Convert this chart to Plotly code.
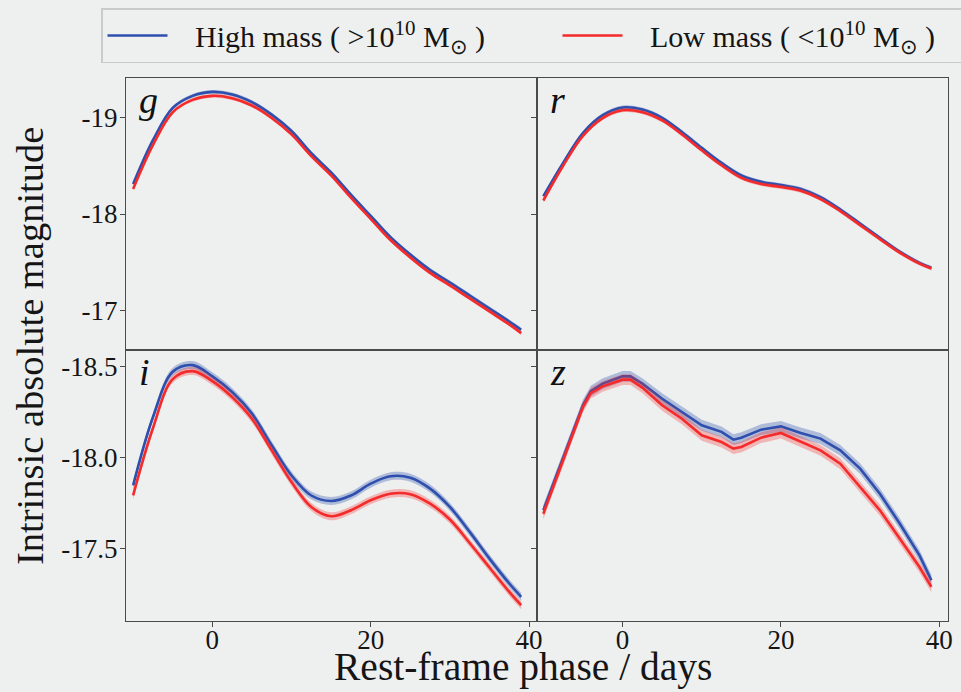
import plotly.graph_objects as go

# ---------------- data ----------------
days = [-10, -7.5, -5, -2.5, 0, 2.5, 5, 7.5, 10, 12.5, 15, 17.5, 20,
        22.5, 25, 27.5, 30, 32.5, 35, 37.5, 39]

g_high = [-18.31, -18.765, -19.10, -19.225, -19.266, -19.24, -19.16, -19.03,
          -18.86, -18.63, -18.43, -18.20, -17.98, -17.76, -17.58, -17.42,
          -17.29, -17.155, -17.02, -16.885, -16.80]
g_low = [-18.26, -18.715, -19.055, -19.183, -19.225, -19.20, -19.125, -18.995,
         -18.825, -18.60, -18.40, -18.17, -17.95, -17.73, -17.55, -17.39,
         -17.26, -17.125, -16.99, -16.855, -16.765]

r_high = [-18.185, -18.53, -18.84, -19.024, -19.104, -19.083, -18.997, -18.85,
          -18.686, -18.53, -18.40, -18.333, -18.30, -18.26, -18.175, -18.047,
          -17.90, -17.753, -17.61, -17.494, -17.442]
r_low = [-18.14, -18.50, -18.81, -18.995, -19.075, -19.055, -18.97, -18.825,
         -18.66, -18.505, -18.375, -18.31, -18.28, -18.24, -18.155, -18.03,
         -17.885, -17.74, -17.60, -17.485, -17.435]

i_high = [-17.846, -18.22, -18.47, -18.507, -18.445, -18.359, -18.24, -18.066,
          -17.90, -17.79, -17.76, -17.79, -17.855, -17.896, -17.888, -17.828,
          -17.727, -17.59, -17.443, -17.306, -17.233]
i_low = [-17.791, -18.16, -18.43, -18.474, -18.419, -18.331, -18.212, -18.038,
         -17.864, -17.727, -17.676, -17.709, -17.764, -17.80, -17.797, -17.745,
         -17.658, -17.529, -17.394, -17.26, -17.187]

z_days = [-10, -7.5, -5, -4, -2.5, 0, 1, 2.5, 5, 7.5, 10, 12.5, 14, 15,
          17.5, 20, 22.5, 25, 27.5, 30, 32.5, 35, 37.5, 39]
z_high = [-17.709, -17.993, -18.286, -18.364, -18.405, -18.445, -18.445, -18.405,
          -18.322, -18.249, -18.176, -18.14, -18.097, -18.108, -18.152, -18.17,
          -18.134, -18.103, -18.038, -17.938, -17.80, -17.636, -17.461, -17.324]
z_low = [-17.690, -17.980, -18.277, -18.353, -18.390, -18.427, -18.427, -18.383,
         -18.286, -18.212, -18.121, -18.084, -18.048, -18.057, -18.108, -18.134,
         -18.084, -18.038, -17.965, -17.837, -17.709, -17.553, -17.397, -17.288]

# half-widths of the shaded uncertainty bands (mag)
band_g = 0.02
band_r = 0.02
band_i = 0.022
band_z = 0.03

bands = ["g", "r", "i", "z"]
x_ticks = [0, 20, 40]
x_ticktext = ["0", "20", "40"]
y_top_ticks = [-19, -18, -17]
y_top_ticktext = ["-19", "-18", "-17"]
y_bot_ticks = [-18.5, -18.0, -17.5]
y_bot_ticktext = ["-18.5", "-18.0", "-17.5"]

series_names = ["\u00a0\u00a0\u00a0High mass ( &gt;10<sup>10</sup> M<sub>⊙</sub> )",
                "\u00a0\u00a0\u00a0Low mass ( &lt;10<sup>10</sup> M<sub>⊙</sub> )"]

# ---------------- styling ----------------
W, H = 961, 692
BG = "#eef0ef"
BLUE = "#2f4fae"
RED = "#f52a2a"
BLUE_FILL = "rgba(47,79,174,0.33)"
RED_FILL = "rgba(245,50,50,0.30)"
AX = "#4a4a4a"
FONT = "Liberation Serif"

panels = [
    ("g", days, g_high, g_low, band_g, "x", "y", "spline"),
    ("r", days, r_high, r_low, band_r, "x2", "y2", "spline"),
    ("i", days, i_high, i_low, band_i, "x3", "y3", "spline"),
    ("z", z_days, z_high, z_low, band_z, "x4", "y4", "linear"),
]

fig = go.Figure()
for k, (name, xs, hi, lo, bw, xa, ya, shape) in enumerate(panels):
    for j, (vals, col, fillc) in enumerate([(hi, BLUE, BLUE_FILL), (lo, RED, RED_FILL)]):
        upper = [v - bw for v in vals]
        lower = [v + bw for v in vals]
        fig.add_trace(go.Scatter(x=xs, y=upper, xaxis=xa, yaxis=ya, mode="lines",
                                 line=dict(width=0, shape=shape), showlegend=False,
                                 hoverinfo="skip"))
        fig.add_trace(go.Scatter(x=xs, y=lower, xaxis=xa, yaxis=ya, mode="lines",
                                 line=dict(width=0, shape=shape), fill="tonexty",
                                 fillcolor=fillc, showlegend=False, hoverinfo="skip"))
        fig.add_trace(go.Scatter(x=xs, y=vals, xaxis=xa, yaxis=ya, mode="lines",
                                 line=dict(color=col, width=2.6, shape=shape),
                                 name=series_names[j], legendgroup=str(j),
                                 showlegend=(k == 0)))

# geometry (pixel based, margins 0 so paper == pixels)
xL = [126 / W, 537 / W]
xR = [537 / W, 948 / W]
yT = [1 - 350 / H, 1 - 78 / H]
yB = [1 - 621 / H, 1 - 350 / H]

common = dict(showline=True, mirror=True, linecolor=AX, linewidth=1.4,
              showgrid=False, zeroline=False, ticklen=5, tickwidth=1.2,
              tickcolor=AX, tickfont=dict(family=FONT, size=27, color="#151515"))

xr_left = [-10.9, 41.0]
xr_right = [-10.8, 41.1]
yr_top = [-16.59, -19.41]
yr_bot = [-17.10, -18.59]

layout_axes = dict(
    xaxis=dict(domain=xL, anchor="y", range=xr_left, showticklabels=False, ticks="", **common),
    xaxis2=dict(domain=xR, anchor="y2", range=xr_right, showticklabels=False, ticks="", **common),
    xaxis3=dict(domain=xL, anchor="y3", range=xr_left, ticks="outside", ticklabelstandoff=-11,
                tickvals=x_ticks, ticktext=x_ticktext, **common),
    xaxis4=dict(domain=xR, anchor="y4", range=xr_right, ticks="outside", ticklabelstandoff=-11,
                tickvals=x_ticks, ticktext=x_ticktext, **common),
    yaxis=dict(domain=yT, anchor="x", range=yr_top, ticks="outside", ticklabelstandoff=-3,
               tickvals=y_top_ticks, ticktext=y_top_ticktext, **common),
    yaxis2=dict(domain=yT, anchor="x2", range=yr_top, ticks="outside",
                tickvals=y_top_ticks, showticklabels=False, **common),
    yaxis3=dict(domain=yB, anchor="x3", range=yr_bot, ticks="outside", ticklabelstandoff=-3,
                tickvals=y_bot_ticks, ticktext=y_bot_ticktext, **common),
    yaxis4=dict(domain=yB, anchor="x4", range=yr_bot, ticks="outside",
                tickvals=y_bot_ticks, showticklabels=False, **common),
)

annotations = []
for (name, *_), xa, ya in zip(panels, ["x", "x2", "x3", "x4"], ["y", "y2", "y3", "y4"]):
    annotations.append(dict(text="<i>%s</i>" % name, xref=xa + " domain", yref=ya + " domain",
                            x=0.026, y=0.92, xanchor="left", yanchor="middle",
                            showarrow=False, font=dict(family=FONT, size=38, color="#111")))

annotations.append(dict(text="Intrinsic absolute magnitude", xref="paper", yref="paper",
                        x=30 / W, y=1 - 346 / H, textangle=-90, showarrow=False,
                        xanchor="center", yanchor="middle",
                        font=dict(family=FONT, size=38.5, color="#151515")))
annotations.append(dict(text="Rest-frame phase / days", xref="paper", yref="paper",
                        x=523 / W, y=1 - 667 / H, showarrow=False,
                        xanchor="center", yanchor="middle",
                        font=dict(family=FONT, size=39.5, color="#151515")))

fig.update_layout(
    width=W, height=H,
    margin=dict(l=0, r=0, t=0, b=0, pad=0, autoexpand=False),
    paper_bgcolor=BG, plot_bgcolor=BG,
    annotations=annotations,
    legend=dict(orientation="h", x=101 / W, y=1 - 8 / H, xanchor="left", yanchor="top",
                bgcolor=BG, bordercolor="#c9cbca", borderwidth=1.5,
                font=dict(family=FONT, size=30, color="#151515"),
                itemwidth=60, entrywidth=380, entrywidthmode="pixels",
                traceorder="normal"),
    showlegend=True,
    **layout_axes,
)

fig.write_html("out.html")
